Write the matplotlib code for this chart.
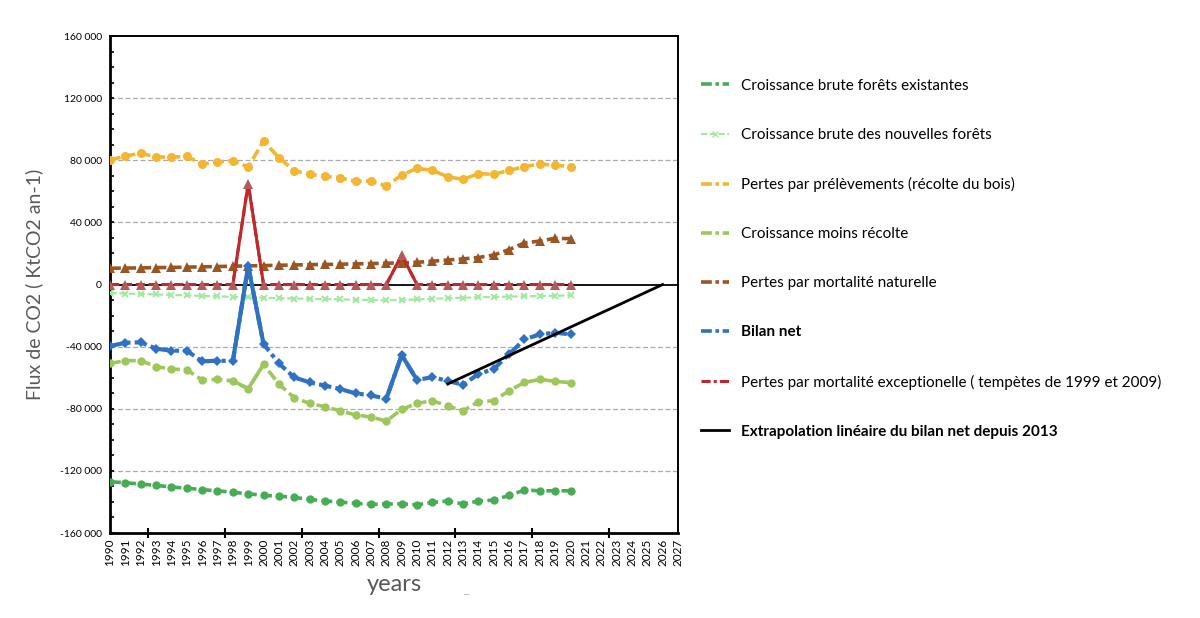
import numpy as np
import matplotlib.pyplot as plt
from matplotlib.lines import Line2D
from matplotlib.ticker import FuncFormatter, MultipleLocator

plt.rcParams['font.family'] = ['Lato', 'DejaVu Sans']

# données (ktCO2 / an)
years = np.arange(1990, 2021)

croissance_existantes = [-127000, -127600, -128500, -129300, -130400, -131100, -132100, -132800,
                         -133800, -134700, -135800, -136200, -137100, -138300, -139400, -140100,
                         -140900, -141500, -141300, -141200, -141800, -140300, -139400, -141300,
                         -139400, -138800, -135800, -132300, -132800, -132800, -132800]
croissance_nouvelles = [-5500, -5800, -6100, -6400, -6700, -7000, -7300, -7600, -8000, -8300,
                        -8500, -8800, -9000, -9200, -9400, -9600, -9800, -10000, -10200, -10000,
                        -9600, -9200, -8800, -8500, -8200, -8000, -7800, -7600, -7400, -7200, -7000]
prelevements = [80200, 82700, 84500, 82100, 82000, 82500, 77600, 78900, 79700, 75700,
                92400, 81700, 73300, 71000, 69700, 68600, 66400, 66700, 63400, 70500,
                74800, 73500, 69400, 67700, 71400, 71000, 73500, 75900, 77600, 76800, 75900]
croissance_moins_recolte = [-50800, -49000, -49000, -52900, -54400, -54900, -61500, -61100, -62000,
                            -67100, -51400, -64100, -72900, -76500, -78700, -81300, -84000, -85300,
                            -87900, -80400, -76500, -74800, -78200, -81300, -75500, -74800, -68400,
                            -63000, -61100, -62300, -63200]
mortalite_naturelle = [10500, 10600, 10700, 10900, 11000, 11200, 11400, 11600, 11800, 12000,
                       12200, 12400, 12600, 12800, 12900, 13100, 13300, 13500, 13700, 14000,
                       14300, 15000, 15800, 16500, 17400, 19000, 22500, 26800, 28000, 29800, 29500]
bilan_net = [-39600, -37500, -37200, -41300, -42600, -42600, -49500, -49000, -49300, 11900,
             -38300, -50800, -59800, -63000, -65100, -67300, -70100, -71400, -73500, -45400,
             -61500, -59600, -62100, -64500, -57600, -54400, -44800, -35300, -32100, -31000, -32100]
mortalite_exceptionnelle = [0, 0, 0, 0, 0, 0, 0, 0, 0, 65000,
                            0, 0, 0, 0, 0, 0, 0, 0, 0, 19000,
                            0, 0, 0, 0, 0, 0, 0, 0, 0, 0, 0]
extrap_years = [2012, 2026]
extrap_vals = [-64000, 0]

tempetes = [1999, 2009]
year_labels = [str(y) for y in range(1990, 2028)]

labels = ['Croissance brute forêts existantes',
          'Croissance brute des nouvelles forêts',
          'Pertes par prélèvements (récolte du bois)',
          'Croissance moins récolte',
          'Pertes par mortalité naturelle',
          'Bilan net',
          'Pertes par mortalité exceptionelle ( tempètes de 1999 et 2009)',
          'Extrapolation linéaire du bilan net depuis 2013']

fig = plt.figure(figsize=(12, 6.18), dpi=100)
ax = fig.add_axes([0.0917, 0.1375, 0.4733, 0.8042])

ax.axhline(0, color='black', lw=1.3, zorder=1)
for v in [-120000, -80000, -40000, 40000, 80000, 120000]:
    ax.axhline(v, color='#ababab', lw=0.9, ls=(0, (4, 2)), zorder=0)

dash = (0, (3, 1.2))
dashdot = (0, (3, 1, 1, 1))


def serie(vals, color, marker, ms, ls=dash, lw=2.6, mcolor=None, spikes=None, z=3, mew=0):
    vals = np.asarray(vals)
    ax.plot(years, vals, color=color, ls=ls, lw=lw, marker=marker, ms=ms,
            mfc=mcolor or color, mec=mcolor or color, mew=mew, zorder=z)
    if spikes:
        for s in spikes:
            m = (years >= s - 1) & (years <= s + 1)
            ax.plot(years[m], vals[m], color=color, ls='-', lw=lw, zorder=z - 0.5)


serie(croissance_existantes, '#47ad55', 'o', 6)
serie(croissance_nouvelles, '#a3e8a0', 'x', 5, lw=1.6, mew=1.4)
serie(prelevements, '#f2b632', 'o', 6.5)
serie(croissance_moins_recolte, '#9dc75b', 'o', 6, spikes=[1999])
serie(mortalite_naturelle, '#9a5622', '^', 6.5)
serie(bilan_net, '#2f72c2', 'D', 5, ls=dashdot, lw=3, spikes=tempetes, z=4)
serie(mortalite_exceptionnelle, '#c0292b', '^', 6.5, lw=2.2, mcolor='#b5595b', spikes=tempetes)
ax.plot(extrap_years, extrap_vals, color='black', lw=2, zorder=5)

ax.set_xlim(1990, 2027)
ax.set_ylim(-160000, 160000)
ax.set_xticks(range(1990, 2028))
ax.set_xticklabels(year_labels, rotation=90, fontsize=8.5)
ax.xaxis.set_minor_locator(MultipleLocator(2.5))
ax.tick_params(axis='x', which='major', length=0, pad=4)
ax.tick_params(axis='x', which='minor', direction='inout', length=7, width=1.5)
ax.yaxis.set_major_locator(MultipleLocator(40000))
ax.yaxis.set_minor_locator(MultipleLocator(10000))
ax.yaxis.set_major_formatter(FuncFormatter(lambda v, p: f'{int(v):,}'.replace(',', ' ')))
ax.tick_params(axis='y', which='both', direction='in', length=3, width=1.2, labelsize=7.5, pad=6)
for s in ['left', 'bottom']:
    ax.spines[s].set_linewidth(2)
for s in ['top', 'right']:
    ax.spines[s].set_linewidth(1.4)

ax.set_ylabel('Flux de CO2 ( KtCO2 an-1)', fontsize=14, color='#595959', labelpad=12)
ax.set_xlabel('years', fontsize=17, color='#595959', labelpad=6)
fig.text(0.389, 0.03, '–', fontsize=9, color='#bbbbbb', ha='center')

handles = [Line2D([], [], color='#47ad55', lw=2.6, ls=dashdot),
           Line2D([], [], color='#a3e8a0', lw=1.5, ls=dash, marker='x', ms=4),
           Line2D([], [], color='#f2b632', lw=2.6, ls=dashdot),
           Line2D([], [], color='#9dc75b', lw=2.6, ls=dashdot),
           Line2D([], [], color='#9a5622', lw=2.6, ls=dashdot),
           Line2D([], [], color='#2f72c2', lw=2.6, ls=dashdot),
           Line2D([], [], color='#c0292b', lw=2.2, ls=dashdot),
           Line2D([], [], color='black', lw=2)]
leg = fig.legend(handles, labels, loc='upper left', bbox_to_anchor=(0.578, 0.885),
                 frameon=False, fontsize=11, handlelength=1.8, handletextpad=0.8,
                 labelspacing=2.3, borderpad=0)
for i in (5, 7):
    leg.get_texts()[i].set_fontweight('bold')

fig.savefig('out.png', dpi=100)
